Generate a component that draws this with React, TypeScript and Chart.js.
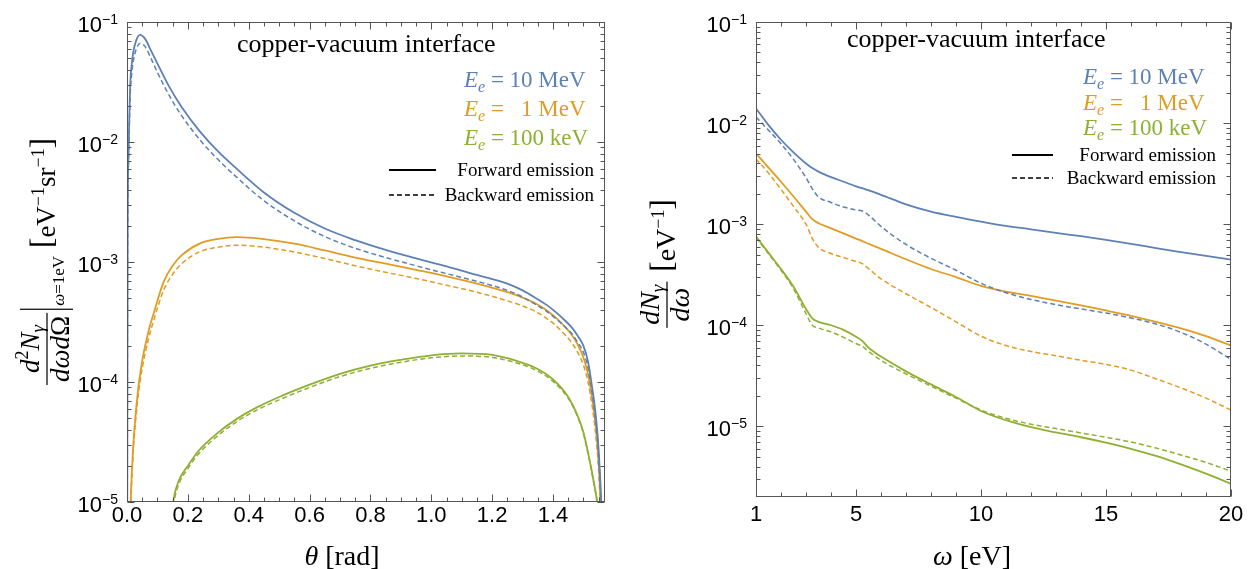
import React, { useEffect, useRef } from "react";
import { Chart, registerables } from "chart.js";

Chart.register(...registerables);

// ---------------- colours ----------------
const BLUE = "#5E81B5";
const ORANGE = "#E19C24";
const GREEN = "#8FB032";
const FRAME = "#555555";

// ---------------- left panel: d2N/(dω dΩ) at ω = 1 eV vs θ ----------------
const leftXTicks = [0, 0.2, 0.4, 0.6, 0.8, 1.0, 1.2, 1.4];
const leftYExps = [-1, -2, -3, -4, -5];

const thetaBlue = [0, 0.002, 0.005, 0.01, 0.015, 0.02, 0.03, 0.043, 0.06, 0.08, 0.1, 0.14, 0.18, 0.24, 0.3, 0.36, 0.45, 0.55, 0.65, 0.75, 0.85, 0.95, 1.05, 1.15, 1.25, 1.3, 1.34, 1.38, 1.41, 1.44, 1.46, 1.48, 1.5, 1.515, 1.53, 1.54, 1.55, 1.558, 1.565, 1.5708];
const ang10MeVFwd = [1e-7, 1.5e-3, 8e-3, 0.028, 0.043, 0.055, 0.07, 0.078, 0.072, 0.057, 0.045, 0.0285, 0.0195, 0.0122, 0.0083, 0.006, 0.0038, 0.00257, 0.0019, 0.00152, 0.00126, 0.00107, 0.00092, 0.00078, 0.00066, 0.00058, 0.000507, 0.000437, 0.00038, 0.000324, 0.000288, 0.000245, 0.0002, 0.000148, 8.5e-5, 5.4e-5, 2.7e-5, 1.05e-5, 2.5e-6, 1e-7];
const ang10MeVBwd = [1e-7, 1.2e-3, 6.5e-3, 0.023, 0.036, 0.046, 0.059, 0.0665, 0.062, 0.049, 0.038, 0.0241, 0.0165, 0.0104, 0.0071, 0.0051, 0.00324, 0.0022, 0.00163, 0.0013, 0.00109, 0.00093, 0.0008, 0.00069, 0.00058, 0.00051, 0.000447, 0.000386, 0.000336, 0.000287, 0.000256, 0.000216, 0.000177, 0.000131, 7.6e-5, 4.8e-5, 2.4e-5, 9.3e-6, 2.2e-6, 1e-7];

const thetaOrange = [0, 0.006, 0.012, 0.02, 0.035, 0.05, 0.07, 0.09, 0.12, 0.15, 0.18, 0.24, 0.3, 0.36, 0.45, 0.55, 0.65, 0.75, 0.85, 0.95, 1.05, 1.15, 1.25, 1.3, 1.34, 1.38, 1.41, 1.44, 1.46, 1.48, 1.5, 1.515, 1.53, 1.54, 1.55, 1.556, 1.562, 1.5708];
const ang1MeVFwd = [1e-8, 2.6e-6, 1e-5, 2.8e-5, 8e-5, 1.5e-4, 2.6e-4, 3.9e-4, 6.8e-4, 9.3e-4, 1.14e-3, 1.43e-3, 1.56e-3, 1.61e-3, 1.55e-3, 1.42e-3, 1.25e-3, 1.09e-3, 9.7e-4, 8.6e-4, 7.6e-4, 6.6e-4, 5.6e-4, 5.05e-4, 4.55e-4, 3.95e-4, 3.42e-4, 2.87e-4, 2.5e-4, 2.08e-4, 1.6e-4, 1.16e-4, 6.9e-5, 4.3e-5, 2.1e-5, 1.0e-5, 3e-6, 1e-7];
const ang1MeVBwd = [1e-8, 2.4e-6, 9e-6, 2.5e-5, 7e-5, 1.3e-4, 2.25e-4, 3.4e-4, 5.8e-4, 7.9e-4, 9.7e-4, 1.22e-3, 1.33e-3, 1.38e-3, 1.33e-3, 1.21e-3, 1.07e-3, 9.3e-4, 8.2e-4, 7.3e-4, 6.4e-4, 5.6e-4, 4.75e-4, 4.3e-4, 3.9e-4, 3.38e-4, 2.94e-4, 2.47e-4, 2.15e-4, 1.79e-4, 1.38e-4, 1.0e-4, 5.95e-5, 3.7e-5, 1.8e-5, 8.6e-6, 2.6e-6, 1e-7];

const thetaGreenFwd = [0.135, 0.145, 0.152, 0.17, 0.2, 0.234, 0.3, 0.365, 0.43, 0.5, 0.6, 0.7, 0.8, 0.9, 1.0, 1.1, 1.2, 1.28, 1.34, 1.4, 1.45, 1.48, 1.5, 1.52, 1.535, 1.545, 1.555, 1.5708];
const ang100keVFwd = [2e-6, 6.5e-6, 1e-5, 1.5e-5, 2.0e-5, 2.65e-5, 3.8e-5, 5.0e-5, 6.2e-5, 7.5e-5, 9.5e-5, 1.17e-4, 1.37e-4, 1.53e-4, 1.67e-4, 1.73e-4, 1.68e-4, 1.5e-4, 1.32e-4, 1.05e-4, 7.5e-5, 5.3e-5, 3.8e-5, 2.25e-5, 1.42e-5, 1.0e-5, 5e-6, 1e-7];
const thetaGreenBwd = [0.138, 0.148, 0.155, 0.17, 0.2, 0.234, 0.3, 0.365, 0.43, 0.5, 0.6, 0.7, 0.8, 0.9, 1.0, 1.1, 1.2, 1.28, 1.34, 1.4, 1.45, 1.48, 1.5, 1.52, 1.535, 1.545, 1.555, 1.5708];
const ang100keVBwd = [2e-6, 6.5e-6, 1e-5, 1.4e-5, 1.9e-5, 2.5e-5, 3.6e-5, 4.75e-5, 5.9e-5, 7.1e-5, 9.0e-5, 1.11e-4, 1.3e-4, 1.46e-4, 1.59e-4, 1.65e-4, 1.6e-4, 1.44e-4, 1.27e-4, 1.01e-4, 7.3e-5, 5.2e-5, 3.7e-5, 2.2e-5, 1.39e-5, 9.8e-6, 4.9e-6, 1e-7];

// ---------------- right panel: dN/dω vs ω ----------------
const rightXTicks = [1, 5, 10, 15, 20];
const rightYExps = [-1, -2, -3, -4, -5];

const omega = [1, 1.5, 2, 2.5, 3, 3.25, 3.5, 4, 4.5, 5, 5.25, 5.5, 6, 7, 8, 9, 10, 11, 12, 13, 14, 15, 16, 17, 18, 19, 20];
const spec10MeVFwd = [0.01396, 0.00955, 0.00684, 0.00513, 0.00398, 0.00359, 0.00331, 0.00292, 0.00263, 0.00237, 0.00227, 0.00216, 0.00195, 0.00157, 0.00133, 0.00118, 0.00106, 0.00096, 0.00089, 0.00082, 0.00076, 0.0007, 0.00064, 0.00058, 0.00053, 0.000485, 0.000445];
const spec10MeVBwd = [0.01148, 0.00851, 0.00624, 0.00437, 0.00288, 0.00224, 0.00186, 0.00164, 0.00148, 0.00138, 0.00135, 0.00123, 0.00095, 0.00063, 0.00046, 0.00035, 0.00026, 0.00021, 0.00018, 0.00016, 0.000145, 0.000132, 0.000118, 0.000103, 0.000085, 0.000065, 0.000046];
const spec1MeVFwd = [0.005, 0.00363, 0.00263, 0.00188, 0.00133, 0.00112, 0.00102, 0.00091, 0.00081, 0.00072, 0.00068, 0.00064, 0.00057, 0.00045, 0.00036, 0.0003, 0.000245, 0.000215, 0.000195, 0.000175, 0.000157, 0.00014, 0.000124, 0.000108, 0.000093, 0.000078, 0.000063];
const spec1MeVBwd = [0.00442, 0.0032, 0.00221, 0.0015, 0.001, 0.000724, 0.000589, 0.000513, 0.000468, 0.000427, 0.000407, 0.000363, 0.000288, 0.000205, 0.00015, 0.000108, 0.000078, 0.000063, 0.000055, 0.00005, 0.000045, 0.000041, 0.000036, 0.0000295, 0.000024, 0.000019, 0.0000145];
const spec100keVFwd = [7.6e-4, 5.2e-4, 3.6e-4, 2.4e-4, 1.45e-4, 1.17e-4, 1.08e-4, 1.0e-4, 9.0e-5, 7.7e-5, 7.0e-5, 6.0e-5, 4.9e-5, 3.5e-5, 2.6e-5, 1.95e-5, 1.42e-5, 1.15e-5, 9.8e-6, 8.7e-6, 7.8e-6, 6.9e-6, 6.0e-6, 5.1e-6, 4.2e-6, 3.4e-6, 2.7e-6];
const spec100keVBwd = [7.4e-4, 5.1e-4, 3.5e-4, 2.3e-4, 1.3e-4, 1.0e-4, 9.4e-5, 8.6e-5, 7.6e-5, 6.6e-5, 6.2e-5, 5.5e-5, 4.5e-5, 3.3e-5, 2.5e-5, 1.9e-5, 1.45e-5, 1.2e-5, 1.05e-5, 9.5e-6, 8.6e-6, 7.8e-6, 7.0e-6, 6.1e-6, 5.2e-6, 4.4e-6, 3.6e-6];

// ---------------- text helpers ----------------
const SERIF = '"Liberation Serif","Times New Roman",Times,serif';
const SANS = '"Liberation Sans",Arial,Helvetica,sans-serif';
const it = (s: number) => `italic ${s}px ${SERIF}`;
const rm = (s: number) => `${s}px ${SERIF}`;

type Seg = { t: string; f: string; dy?: number; dx?: number };

function segsWidth(ctx: CanvasRenderingContext2D, segs: Seg[]) {
  let w = 0;
  for (const s of segs) {
    ctx.font = s.f;
    w += (s.dx || 0) + ctx.measureText(s.t).width;
  }
  return w;
}
function drawSegs(ctx: CanvasRenderingContext2D, segs: Seg[], x: number, y: number, color: string) {
  let cx = x;
  ctx.textBaseline = "alphabetic";
  ctx.textAlign = "left";
  ctx.fillStyle = color;
  for (const s of segs) {
    ctx.font = s.f;
    cx += s.dx || 0;
    ctx.fillText(s.t, cx, y + (s.dy || 0));
    cx += ctx.measureText(s.t).width;
  }
  return cx;
}

function logMinors(minExp: number, maxExp: number, lo: number, hi: number) {
  const out: number[] = [];
  for (let e = minExp; e <= maxExp; e++) {
    for (let m = 2; m <= 9; m++) {
      const v = m * Math.pow(10, e);
      if (v > lo * 1.0001 && v < hi * 0.9999) out.push(v);
    }
  }
  return out;
}

type Area = { left: number; right: number; top: number; bottom: number };

function makeDecor(cfg: {
  xMajor: number[];
  xMinor: number[];
  yExps: number[];
  yMinor: number[];
  texts: (ctx: CanvasRenderingContext2D, a: Area) => void;
}) {
  return {
    id: "decor",
    afterDraw(chart: any) {
      const ctx: CanvasRenderingContext2D = chart.ctx;
      const a: Area = chart.chartArea;
      const xs = chart.scales.x;
      const ys = chart.scales.y;
      ctx.save();
      ctx.strokeStyle = FRAME;
      ctx.lineWidth = 1;
      const L = Math.round(a.left) + 0.5;
      const R = Math.round(a.right) - 0.5;
      const T = Math.round(a.top) + 0.5;
      const B = Math.round(a.bottom) - 0.5;
      ctx.strokeRect(L, T, R - L, B - T);
      const line = (x1: number, y1: number, x2: number, y2: number) => {
        ctx.beginPath();
        ctx.moveTo(x1, y1);
        ctx.lineTo(x2, y2);
        ctx.stroke();
      };
      const MAJ = 7;
      const MIN = 4;
      const xTick = (v: number, len: number) => {
        const p = Math.round(xs.getPixelForValue(v)) + 0.5;
        line(p, B, p, B - len);
        line(p, T, p, T + len);
      };
      const yTick = (v: number, len: number) => {
        const p = Math.round(ys.getPixelForValue(v)) + 0.5;
        line(L, p, L + len, p);
        line(R, p, R - len, p);
      };
      cfg.xMajor.forEach((v) => xTick(v, MAJ));
      cfg.xMinor.forEach((v) => xTick(v, MIN));
      cfg.yExps.forEach((e) => yTick(Math.pow(10, e), MAJ));
      cfg.yMinor.forEach((v) => yTick(v, MIN));

      // y tick labels 10^n
      for (const e of cfg.yExps) {
        const p = ys.getPixelForValue(Math.pow(10, e));
        const segs: Seg[] = [
          { t: "10", f: `22px ${SANS}` },
          { t: "\u2212" + Math.abs(e), f: `14px ${SANS}`, dy: -8 },
        ];
        const w = segsWidth(ctx, segs);
        drawSegs(ctx, segs, a.left - 9 - w, p + 10, "#000");
      }
      cfg.texts(ctx, a);
      ctx.restore();
    },
  };
}

function eSegs(val: string, pad: number): Seg[] {
  return [
    { t: "E", f: it(23) },
    { t: "e", f: it(16), dy: 5 },
    { t: " = ", f: rm(23) },
    { t: val, f: rm(23), dx: pad },
  ];
}

function legendBlock(
  ctx: CanvasRenderingContext2D,
  eX: number,
  eY: number[],
  lineX1: number,
  lineX2: number,
  lineY: number[],
  textRight: number,
) {
  drawSegs(ctx, eSegs("10 MeV", 0), eX, eY[0], BLUE);
  ctx.font = rm(23);
  const zero = ctx.measureText("0").width;
  drawSegs(ctx, eSegs("1 MeV", zero), eX, eY[1], ORANGE);
  drawSegs(ctx, eSegs("100 keV", 0), eX, eY[2], GREEN);

  ctx.strokeStyle = "#000";
  ctx.lineWidth = 1.8;
  ctx.setLineDash([]);
  ctx.beginPath();
  ctx.moveTo(lineX1, lineY[0]);
  ctx.lineTo(lineX2, lineY[0]);
  ctx.stroke();
  ctx.lineWidth = 1.6;
  ctx.setLineDash([5, 3]);
  ctx.beginPath();
  ctx.moveTo(lineX1, lineY[1]);
  ctx.lineTo(lineX2, lineY[1]);
  ctx.stroke();
  ctx.setLineDash([]);

  const f: Seg[] = [{ t: "Forward emission", f: rm(19) }];
  const b: Seg[] = [{ t: "Backward emission", f: rm(19) }];
  drawSegs(ctx, f, textRight - segsWidth(ctx, f), lineY[0] + 6, "#000");
  drawSegs(ctx, b, textRight - segsWidth(ctx, b), lineY[1] + 6, "#000");
}

function ds(label: string, xs: number[], ys: number[], color: string, dashed: boolean) {
  return {
    label,
    data: xs.map((x, i) => ({ x, y: ys[i] })),
    borderColor: color,
    backgroundColor: color,
    borderWidth: dashed ? 1.5 : 1.8,
    borderDash: dashed ? [5, 3] : [],
    pointRadius: 0,
    fill: false,
    cubicInterpolationMode: "monotone",
  };
}

function baseOptions(opts: {
  xMin: number;
  xMax: number;
  yMin: number;
  yMax: number;
  xTicks: number[];
  fmt: (v: number) => string;
  yWidth: number;
  xHeight: number;
  labelPad: number;
}) {
  return {
    animation: false,
    responsive: false,
    maintainAspectRatio: false,
    layout: { padding: { left: 0, right: 21, top: 22, bottom: 0 } },
    plugins: { legend: { display: false }, tooltip: { enabled: false }, title: { display: false } },
    elements: { point: { radius: 0 } },
    scales: {
      x: {
        type: "linear",
        min: opts.xMin,
        max: opts.xMax,
        grid: { display: false, drawTicks: false },
        border: { display: false },
        ticks: {
          includeBounds: false,
          autoSkip: false,
          maxRotation: 0,
          padding: opts.labelPad,
          color: "#000",
          font: { family: SANS, size: 22 },
          callback: (v: any) => opts.fmt(Number(v)),
        },
        afterBuildTicks: (s: any) => {
          s.ticks = opts.xTicks.map((value) => ({ value }));
        },
        afterFit: (s: any) => {
          s.height = opts.xHeight;
          s.paddingLeft = 0;
          s.paddingRight = 0;
        },
      },
      y: {
        type: "logarithmic",
        min: opts.yMin,
        max: opts.yMax,
        grid: { display: false, drawTicks: false },
        border: { display: false },
        ticks: { display: false },
        afterFit: (s: any) => {
          s.width = opts.yWidth;
          s.paddingTop = 0;
          s.paddingBottom = 0;
        },
      },
    },
  };
}

function leftConfig(): any {
  const xMinor: number[] = [];
  for (let k = 1; k * 0.05 < Math.PI / 2; k++) if (k % 4 !== 0) xMinor.push(k * 0.05);
  return {
    type: "line",
    data: {
      datasets: [
        ds("10 MeV forward", thetaBlue, ang10MeVFwd, BLUE, false),
        ds("10 MeV backward", thetaBlue, ang10MeVBwd, BLUE, true),
        ds("1 MeV forward", thetaOrange, ang1MeVFwd, ORANGE, false),
        ds("1 MeV backward", thetaOrange, ang1MeVBwd, ORANGE, true),
        ds("100 keV forward", thetaGreenFwd, ang100keVFwd, GREEN, false),
        ds("100 keV backward", thetaGreenBwd, ang100keVBwd, GREEN, true),
      ],
    },
    options: baseOptions({
      xMin: 0,
      xMax: Math.PI / 2,
      yMin: 1e-5,
      yMax: 1e-1,
      xTicks: leftXTicks,
      fmt: (v) => v.toFixed(1),
      yWidth: 127,
      xHeight: 67,
      labelPad: 1,
    }),
    plugins: [
      makeDecor({
        xMajor: leftXTicks,
        xMinor,
        yExps: leftYExps,
        yMinor: logMinors(-5, -2, 1e-5, 1e-1),
        texts: (ctx, a) => {
          drawSegs(ctx, [{ t: "copper-vacuum interface", f: rm(26) }], a.left + 110, a.top + 30, "#000");
          legendBlock(
            ctx,
            a.left + 337,
            [a.top + 65, a.top + 94, a.top + 123],
            a.left + 262,
            a.left + 309,
            [a.top + 148, a.top + 173],
            a.right - 11,
          );
          // x title
          const xt: Seg[] = [
            { t: "\u03B8", f: it(28) },
            { t: " [rad]", f: rm(28) },
          ];
          const xw = segsWidth(ctx, xt);
          drawSegs(ctx, xt, a.left + 215 - xw / 2, 565, "#000");
          // y title (rotated)
          const cx = a.left - 80;
          const cy = (a.top + a.bottom) / 2;
          ctx.save();
          ctx.translate(cx, cy);
          ctx.rotate(-Math.PI / 2);
          const num: Seg[] = [
            { t: "d", f: it(27) },
            { t: "2", f: rm(18), dy: -11 },
            { t: "N", f: it(27) },
            { t: "\u03B3", f: it(19), dy: 5 },
          ];
          const den: Seg[] = [
            { t: "d\u03C9d", f: it(27) },
            { t: "\u03A9", f: rm(27) },
          ];
          const sub: Seg[] = [
            { t: "\u03C9", f: it(17) },
            { t: "=1eV", f: rm(17) },
          ];
          const unit: Seg[] = [
            { t: "[", f: rm(31), dy: -3 },
            { t: "eV", f: rm(27) },
            { t: "\u22121", f: rm(18), dy: -11 },
            { t: "sr", f: rm(27) },
            { t: "\u22121", f: rm(18), dy: -11 },
            { t: "]", f: rm(31), dy: -3 },
          ];
          const nw = segsWidth(ctx, num);
          const dw = segsWidth(ctx, den);
          const fw = Math.max(nw, dw) + 6;
          const sw = segsWidth(ctx, sub);
          const uw = segsWidth(ctx, unit);
          const total = fw + 4 + sw + 10 + uw;
          const x0 = -total / 2;
          ctx.fillStyle = "#000";
          ctx.fillRect(x0, -0.6, fw, 1.2);
          drawSegs(ctx, num, x0 + (fw - nw) / 2, -8, "#000");
          drawSegs(ctx, den, x0 + (fw - dw) / 2, 22, "#000");
          const bx = x0 + fw + 3;
          ctx.fillRect(bx, -27, 1.2, 53);
          drawSegs(ctx, sub, bx + 4, 17, "#000");
          drawSegs(ctx, unit, bx + 4 + sw + 8, 8, "#000");
          ctx.restore();
        },
      }),
    ],
  };
}

function rightConfig(): any {
  const xMinor: number[] = [];
  for (let k = 2; k < 20; k++) if (!rightXTicks.includes(k)) xMinor.push(k);
  return {
    type: "line",
    data: {
      datasets: [
        ds("10 MeV forward", omega, spec10MeVFwd, BLUE, false),
        ds("10 MeV backward", omega, spec10MeVBwd, BLUE, true),
        ds("1 MeV forward", omega, spec1MeVFwd, ORANGE, false),
        ds("1 MeV backward", omega, spec1MeVBwd, ORANGE, true),
        ds("100 keV forward", omega, spec100keVFwd, GREEN, false),
        ds("100 keV backward", omega, spec100keVBwd, GREEN, true),
      ],
    },
    options: baseOptions({
      xMin: 1,
      xMax: 20,
      yMin: 2e-6,
      yMax: 1e-1,
      xTicks: rightXTicks,
      fmt: (v) => String(Math.round(v)),
      yWidth: 130,
      xHeight: 72,
      labelPad: 5,
    }),
    plugins: [
      makeDecor({
        xMajor: rightXTicks,
        xMinor,
        yExps: rightYExps,
        yMinor: logMinors(-6, -2, 2e-6, 1e-1),
        texts: (ctx, a) => {
          drawSegs(ctx, [{ t: "copper-vacuum interface", f: rm(26) }], a.left + 91, a.top + 25, "#000");
          legendBlock(
            ctx,
            a.left + 327,
            [a.top + 62, a.top + 88, a.top + 113],
            a.left + 256,
            a.left + 297,
            [a.top + 133, a.top + 156],
            a.right - 15,
          );
          const xt: Seg[] = [
            { t: "\u03C9", f: it(28) },
            { t: " [eV]", f: rm(28) },
          ];
          const xw = segsWidth(ctx, xt);
          drawSegs(ctx, xt, a.left + 216 - xw / 2, 565, "#000");
          const cx = a.left - 89;
          const cy = (a.top + a.bottom) / 2 + 4;
          ctx.save();
          ctx.translate(cx, cy);
          ctx.rotate(-Math.PI / 2);
          const num: Seg[] = [
            { t: "dN", f: it(28) },
            { t: "\u03B3", f: it(19), dy: 5 },
          ];
          const den: Seg[] = [{ t: "d\u03C9", f: it(28) }];
          const unit: Seg[] = [
            { t: "[", f: rm(31), dy: -3 },
            { t: "eV", f: rm(28) },
            { t: "\u22121", f: rm(18), dy: -11 },
            { t: "]", f: rm(31), dy: -3 },
          ];
          const nw = segsWidth(ctx, num);
          const dw = segsWidth(ctx, den);
          const fw = Math.max(nw, dw) + 6;
          const uw = segsWidth(ctx, unit);
          const total = fw + 10 + uw;
          const x0 = -total / 2;
          ctx.fillStyle = "#000";
          ctx.fillRect(x0, -0.6, fw, 1.2);
          drawSegs(ctx, num, x0 + (fw - nw) / 2, -8, "#000");
          drawSegs(ctx, den, x0 + (fw - dw) / 2, 22, "#000");
          drawSegs(ctx, unit, x0 + fw + 10, 8, "#000");
          ctx.restore();
        },
      }),
    ],
  };
}

export default function App() {
  const leftRef = useRef<HTMLCanvasElement>(null);
  const rightRef = useRef<HTMLCanvasElement>(null);
  useEffect(() => {
    const c1 = new Chart(leftRef.current as HTMLCanvasElement, leftConfig());
    const c2 = new Chart(rightRef.current as HTMLCanvasElement, rightConfig());
    return () => {
      c1.destroy();
      c2.destroy();
    };
  }, []);
  return (
    <div style={{ position: "absolute", left: 0, top: 0, width: 1252, height: 569, background: "#fff" }}>
      <canvas
        ref={leftRef}
        width={626}
        height={569}
        style={{ position: "absolute", left: 0, top: 0, width: 626, height: 569 }}
      />
      <canvas
        ref={rightRef}
        width={626}
        height={569}
        style={{ position: "absolute", left: 626, top: 0, width: 626, height: 569 }}
      />
    </div>
  );
}
